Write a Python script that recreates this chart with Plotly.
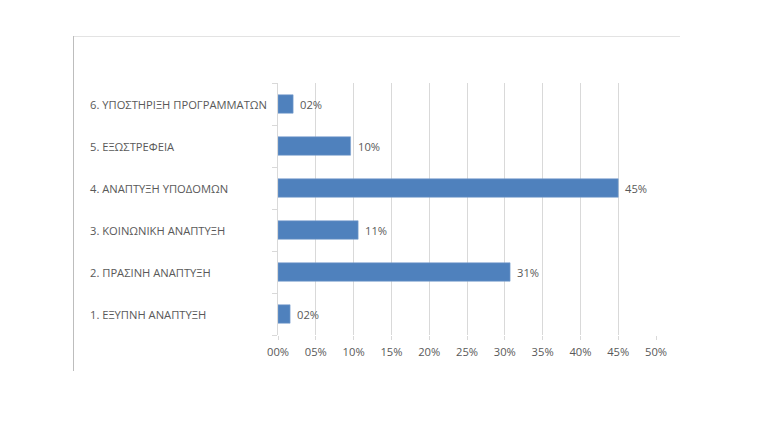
import math
import plotly.graph_objects as go

categories = [
    "1. ΕΞΥΠΝΗ ΑΝΑΠΤΥΞΗ",
    "2. ΠΡΑΣΙΝΗ ΑΝΑΠΤΥΞΗ",
    "3. ΚΟΙΝΩΝΙΚΗ ΑΝΑΠΤΥΞΗ",
    "4. ΑΝΑΠΤΥΞΗ ΥΠΟΔΟΜΩΝ",
    "5. ΕΞΩΣΤΡΕΦΕΙΑ",
    "6. ΥΠΟΣΤΗΡΙΞΗ ΠΡΟΓΡΑΜΜΑΤΩΝ",
]
values = [0.016, 0.307, 0.106, 0.45, 0.096, 0.02]
x_tick_vals = [0, 0.05, 0.10, 0.15, 0.20, 0.25, 0.30, 0.35, 0.40, 0.45, 0.50]
x_tick_text = ["00%", "05%", "10%", "15%", "20%", "25%", "30%", "35%", "40%", "45%", "50%"]

labels = [f"{int(math.floor(v * 100 + 0.5)):02d}%" for v in values]

W, H = 766, 422
L, R, T, B = 278, 656, 83, 335
FONT = "Open Sans"
GREY = "#595959"
FS = 11.2

def px_x(p):
    return (p - L) / (R - L)

def px_y(p):
    return (B - p) / (B - T)

fig = go.Figure(
    go.Bar(
        x=values,
        y=categories,
        orientation="h",
        marker=dict(color="#4f81bd", line=dict(color="#7da2d0", width=0.6)),
        width=0.44,
        cliponaxis=False,
    )
)

annotations = []
# category labels, left aligned
for c in categories:
    annotations.append(dict(
        x=px_x(88), xref="paper", y=c, yref="y",
        text=c, showarrow=False, xanchor="left", yanchor="middle",
        font=dict(family=FONT, size=FS, color=GREY),
    ))
# value labels
for c, v, t in zip(categories, values, labels):
    annotations.append(dict(
        x=v, xref="x", y=c, yref="y",
        text=t, showarrow=False, xanchor="left", yanchor="middle",
        xshift=5,
        font=dict(family=FONT, size=FS, color=GREY),
    ))

fig.update_layout(
    width=W,
    height=H,
    margin=dict(l=L, r=W - R, t=T, b=H - B),
    paper_bgcolor="white",
    plot_bgcolor="white",
    showlegend=False,
    font=dict(family=FONT, color=GREY, size=FS),
    annotations=annotations,
    shapes=[
        dict(type="line", xref="paper", yref="paper",
             x0=px_x(73), x1=px_x(680), y0=px_y(36.5), y1=px_y(36.5),
             line=dict(color="#e3e3e3", width=1)),
        dict(type="line", xref="paper", yref="paper",
             x0=px_x(73.5), x1=px_x(73.5), y0=px_y(36), y1=px_y(371),
             line=dict(color="#bdbdbd", width=1)),
    ],
)

fig.update_xaxes(
    range=[0, 0.5],
    tickvals=x_tick_vals,
    ticktext=x_tick_text,
    showgrid=True,
    gridcolor="#d9d9d9",
    gridwidth=1,
    zeroline=False,
    showline=False,
    ticks="outside",
    ticklen=4,
    tickcolor="#d9d9d9",
    ticklabelstandoff=3,
    tickfont=dict(size=FS, color=GREY, family=FONT),
    fixedrange=True,
)

fig.update_yaxes(
    type="category",
    categoryorder="array",
    categoryarray=categories,
    showline=True,
    linecolor="#d9d9d9",
    linewidth=1,
    ticks="outside",
    tickson="boundaries",
    ticklen=5,
    tickcolor="#d9d9d9",
    showgrid=False,
    showticklabels=False,
    fixedrange=True,
)

fig.write_html("out.html")
